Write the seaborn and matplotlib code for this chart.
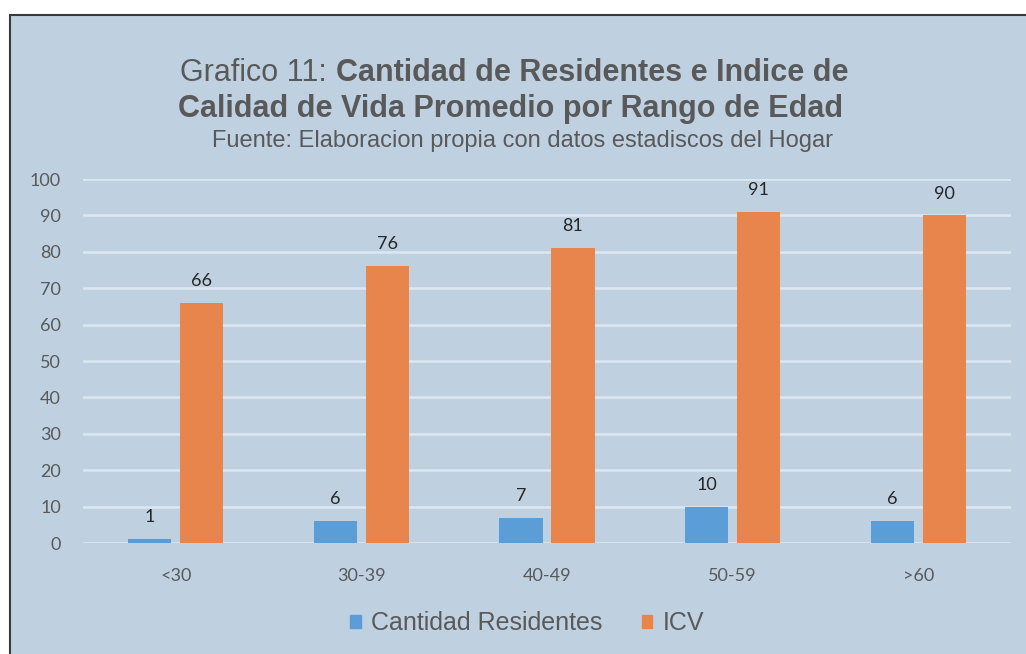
import matplotlib
matplotlib.use('Agg')
import matplotlib.pyplot as plt
import matplotlib.patches as mpatches
import pandas as pd
import seaborn as sns

# datos
rangos = ['<30', '30-39', '40-49', '50-59', '>60']
cantidad_residentes = [1, 6, 7, 10, 6]
icv = [66, 76, 81, 91, 90]
series = ['Cantidad Residentes', 'ICV']
colores = {'Cantidad Residentes': '#5b9dd6', 'ICV': '#e8854c'}

df = pd.DataFrame({
    'Rango': rangos * 2,
    'Valor': cantidad_residentes + icv,
    'Serie': [series[0]] * len(rangos) + [series[1]] * len(rangos),
})

W, H = 1026, 654
gris = '#595959'
fondo = '#bfd1e1'

sns.set_theme(style='white')
plt.rcParams['font.family'] = ['Liberation Sans', 'DejaVu Sans']

fig = plt.figure(figsize=(W / 100, H / 100), dpi=100)
fig.patch.set_facecolor('white')
# marco del grafico (recortado a la derecha y abajo como en el original)
fig.patches.append(mpatches.Rectangle((10 / W, -0.05), 1.0, 1 - 15 / H + 0.05,
                                      transform=fig.transFigure,
                                      facecolor=fondo, edgecolor='#3a3a3a',
                                      linewidth=1.5, zorder=-5))

ax = fig.add_axes([83 / W, 1 - 543 / H, (1011 - 83) / W, 364 / H])
ax.patch.set_alpha(0)

sns.barplot(data=df, x='Rango', y='Valor', hue='Serie', palette=colores,
            width=0.56, gap=0.17, saturation=1, errorbar=None,
            linewidth=0, ax=ax)

ax.set_ylim(0, 100)
ax.set_yticks(range(0, 101, 10))
ax.yaxis.grid(True, color='#dde7f0', linewidth=1.8)
ax.set_axisbelow(True)
for s in ax.spines.values():
    s.set_visible(False)
ax.set_xlabel('')
ax.set_ylabel('')
ax.tick_params(axis='y', length=0, pad=16, labelsize=13, labelcolor=gris)
ax.tick_params(axis='x', length=0, pad=18, labelsize=13, labelcolor=gris)
for lab in ax.get_xticklabels() + ax.get_yticklabels():
    lab.set_fontfamily('Lato')

for cont in ax.containers:
    ax.bar_label(cont, padding=10, fontsize=13, color='#262626',
                 fontfamily='Lato')

ax.get_legend().remove()
handles = [mpatches.Patch(color=colores[s]) for s in series]
fig.legend(handles, series, loc='center', bbox_to_anchor=(527 / W, 1 - 623 / H),
           ncol=2, frameon=False, fontsize=18, handlelength=0.42,
           handleheight=0.42, handletextpad=0.4, columnspacing=1.6,
           labelcolor=gris)

# titulo con dos pesos en la primera linea
renderer = fig.canvas.get_renderer()
y1 = 1 - 81 / H
t1 = fig.text(0, y1, 'Grafico 11:', fontsize=22, color=gris, va='baseline')
t2 = fig.text(0, y1, 'Cantidad de Residentes e Indice de', fontsize=22,
              weight='bold', color=gris, va='baseline')
w1 = t1.get_window_extent(renderer).width
w2 = t2.get_window_extent(renderer).width
espacio = 9
x0 = 514 - (w1 + espacio + w2) / 2
t1.set_x(x0 / W)
t2.set_x((x0 + w1 + espacio) / W)

fig.text(511 / W, 1 - 117 / H, 'Calidad de Vida Promedio por Rango de Edad',
         fontsize=22, weight='bold', color=gris, ha='center', va='baseline')
fig.text(522 / W, 1 - 147 / H,
         'Fuente: Elaboracion propia con datos estadiscos del Hogar',
         fontsize=17, color=gris, ha='center', va='baseline')

fig.savefig('out.png', dpi=100)
